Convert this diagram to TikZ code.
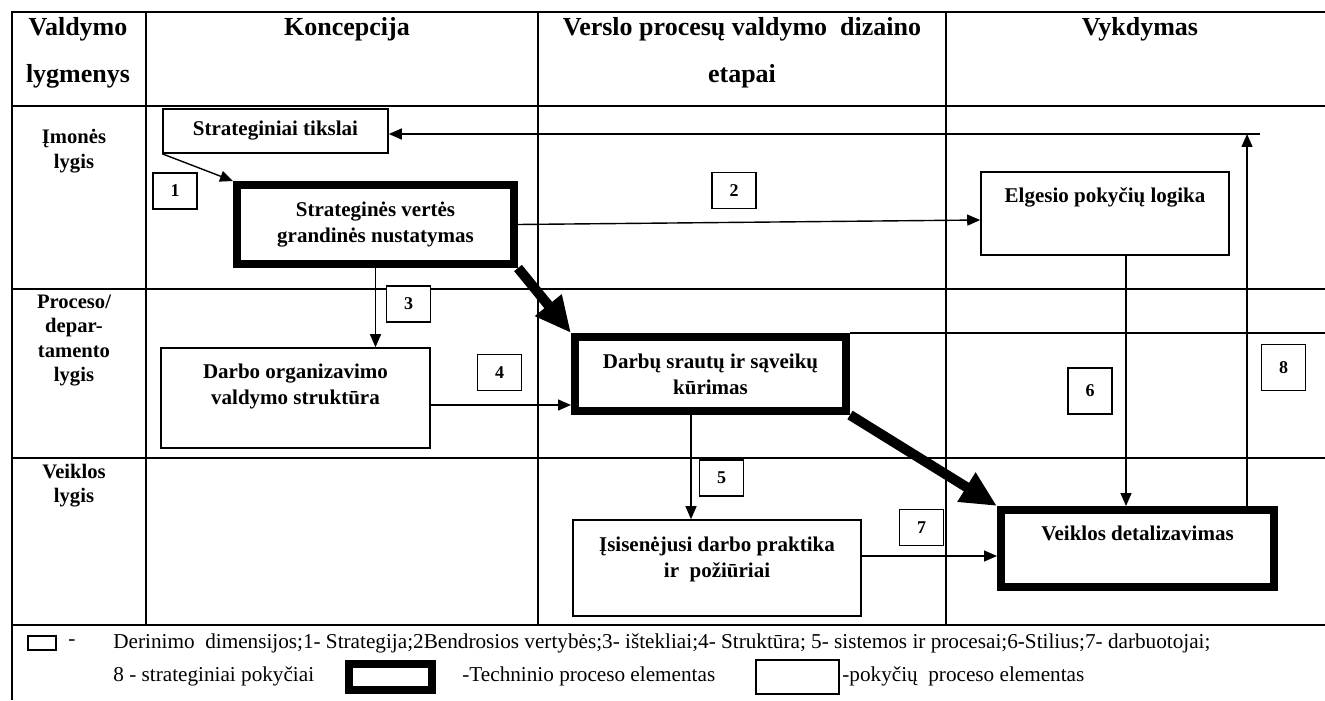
\documentclass[tikz,border=0pt]{standalone}
\usepackage{fontspec}
\setmainfont{Liberation Serif}
\usetikzlibrary{arrows.meta, positioning}

\begin{document}
\begin{tikzpicture}[
    x=0.5pt, y=-0.5pt,
    >={Triangle[length=6.5pt,width=5.5pt]},
    tbl/.style={line width=1pt},
    box/.style={draw, fill=white, line width=0.8pt, align=center, inner sep=2pt,
      font=\bfseries\fontsize{10.5}{13}\selectfont},
    techbox/.style={box, line width=4pt},
    toptxt/.style={inner sep=2pt, align=center, font=\bfseries\fontsize{10.5}{13}\selectfont},
    num/.style={draw, fill=white, line width=0.8pt, minimum width=22pt,
      minimum height=18pt, inner sep=0pt, font=\bfseries\fontsize{9}{10}\selectfont},
    numtall/.style={num, minimum height=23pt},
    head/.style={align=center, font=\bfseries\fontsize{13}{23.5}\selectfont},
    lvl/.style={align=center, inner sep=0pt, font=\bfseries\fontsize{10.3}{12.2}\selectfont},
    leg/.style={anchor=west, inner sep=0pt, font=\fontsize{10.6}{12}\selectfont},
    arr/.style={->, line width=0.7pt},
    bigarr/.style={-{Triangle[length=18pt,width=16pt]}, line width=5pt},
  ]
  \useasboundingbox (0,0) rectangle (1325,700);
  \coordinate (redge) at (1325,0);

  %% ---- table ---------------------------------------------------------
  \draw[tbl] (12,700) -- (12,12) -- (1325,12);
  \foreach \y in {106,289,458,625}
    \draw[tbl] (12,\y) -- (1325,\y);
  \foreach \x in {146,538,946}
    \draw[tbl] (\x,12) -- (\x,625);

  \node[head] (hlvl)  at (78,52.5)  {Valdymo\\lygmenys};
  \node[head] (hconc) at (347,29)   {Koncepcija};
  \node[head] (hdes)  at (742,52.5) {Verslo procesų valdymo~ dizaino\\etapai};
  \node[head] (hexe)  at (1140,29)  {Vykdymas};

  \node[lvl] (lent)  at (74,151)   {Įmonės\\lygis};
  \node[lvl] (lproc) at (74,340.5) {Proceso/\\depar-\\tamento\\lygis};
  \node[lvl] (lact)  at (74,485.5) {Veiklos\\lygis};

  %% ---- boxes ---------------------------------------------------------
  \node[box, minimum width=112.5pt, minimum height=22pt] (tikslai) at (275.5,131)
    {Strateginiai tikslai};
  \node[techbox, minimum width=138.5pt, minimum height=39.5pt] (vertes) at (375.5,224.5)
    {Strateginės vertės\\grandinės nustatymas};
  \node[box, minimum width=124pt, minimum height=41.5pt,
    label={[toptxt, below=6pt]north:Elgesio pokyčių logika}] (elgesio) at (1105,213.5) {};
  \node[box, minimum width=134.5pt, minimum height=50pt,
    label={[toptxt, below=6pt]north:Darbo organizavimo\\valdymo struktūra}] (darbo) at (295.5,398) {};
  \node[techbox, minimum width=135.5pt, minimum height=37pt] (darbu) at (710.5,374)
    {Darbų srautų ir sąveikų\\kūrimas};
  \node[box, minimum width=144pt, minimum height=48pt,
    label={[toptxt, below=6.5pt]north:Įsisenėjusi darbo praktika\\ir~ požiūriai}] (isisen) at (717,568) {};
  \node[techbox, minimum width=136.5pt, minimum height=38.5pt,
    label={[toptxt, below=8pt]north:Veiklos detalizavimas}] (veikla) at (1137.5,548.5) {};

  \draw[tbl] (darbu.north east) -- (darbu.north east -| redge);

  %% ---- numbered dimensions -------------------------------------------
  \node[num] (n1) at (175,191)         {1};
  \node[num] (n2) at (734,190.5)       {2};
  \node[num] (n3) at (408.5,304)       {3};
  \node[num] (n4) at (499.5,372.5)     {4};
  \node[num] (n5) at (721.5,478)       {5};
  \node[numtall] (n6) at (1090,391)    {6};
  \node[num] (n7) at (921.5,527.5)     {7};
  \node[numtall] (n8) at (1283.5,367.5) {8};

  %% ---- connectors ----------------------------------------------------
  \coordinate (ret) at (1260,134);
  \draw[arr] (tikslai.south west) -- (vertes.north west);
  \draw[arr] (vertes.east) -- ([yshift=-3.25pt]elgesio.west);
  \draw[arr] (vertes.south) -- (vertes.south |- darbo.north);
  \draw[arr] ([yshift=-3.5pt]darbo.east) -- ([yshift=-3.5pt]darbo.east -| darbu.west);
  \draw[arr] ([xshift=-9.75pt]darbu.south) -- ([xshift=-9.75pt]darbu.south |- isisen.north);
  \draw[arr] ([xshift=10.5pt]elgesio.south) -- ([xshift=10.5pt]elgesio.south |- veikla.north);
  \draw[arr] ([yshift=6pt]isisen.east) -- ([yshift=6pt]isisen.east -| veikla.west);
  \draw[arr] ([xshift=-15.5pt]veikla.north east) -- ([xshift=-15.5pt]veikla.north east |- ret);
  \draw[arr] (ret) -- (tikslai.east |- ret);

  \draw[bigarr] (vertes.south east) -- (darbu.north west);
  \draw[bigarr] (darbu.south east) -- (veikla.north west);

  %% ---- legend --------------------------------------------------------
  \node[draw, line width=0.8pt, minimum width=14pt, minimum height=7pt, inner sep=0pt]
    (legdim) at (42,643) {};
  \node[leg] (legdash) at (68,643) {-};
  \node[leg] (leg1) at (113,643)
    {Derinimo~ dimensijos;1- Strategija;2Bendrosios vertybės;3- ištekliai;4- Struktūra; 5- sistemos ir procesai;6-Stilius;7- darbuotojai;};
  \node[leg] (leg2) at (113,676) {8 - strateginiai pokyčiai};
  \node[techbox, minimum width=41.5pt, minimum height=13pt, inner sep=0pt] (legtech) at (390.5,677) {};
  \node[leg] (leg3) at (462,676) {-Techninio proceso elementas};
  \node[box, minimum width=41.5pt, minimum height=17pt, inner sep=0pt] (legchg) at (797.5,677) {};
  \node[leg] (leg4) at (842,676) {-pokyčių~ proceso elementas};
\end{tikzpicture}
\end{document}
